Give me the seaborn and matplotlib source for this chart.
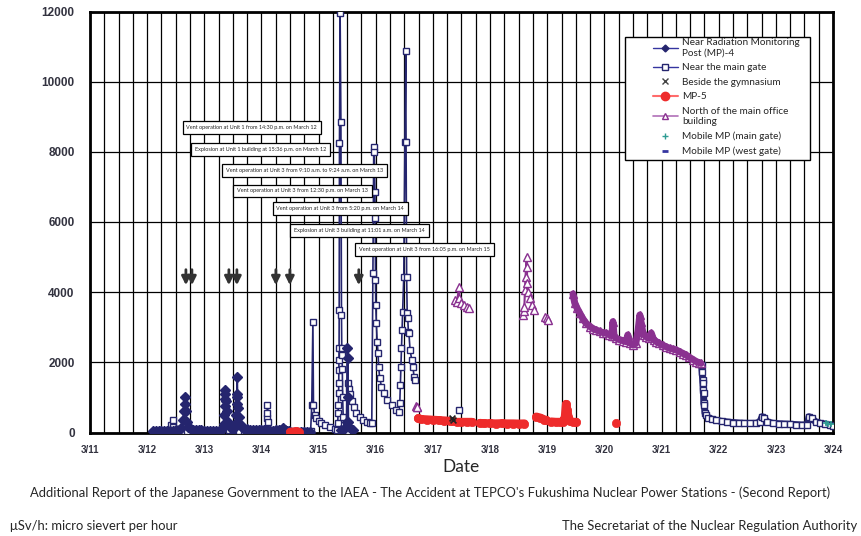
import numpy as np
import pandas as pd
import matplotlib
matplotlib.use('Agg')
import matplotlib.pyplot as plt
from matplotlib.lines import Line2D
from matplotlib.patches import Rectangle
import seaborn as sns

nan = np.nan

# x = days since 3/11 00:00, y = dose rate (uSv/h); nan marks a gap in the record
DATE_LABELS = ['3/11', '3/12', '3/13', '3/14', '3/15', '3/16', '3/17',
               '3/18', '3/19', '3/20', '3/21', '3/22', '3/23', '3/24']

# Near Radiation Monitoring Post (MP)-4
MP4_DAY = [1.10, 1.15, 1.20, 1.25, 1.30, 1.35, 1.40, 1.45, 1.50, 1.55, 1.60, 1.63, 1.645, 1.655,
           1.665, 1.675, 1.69, 1.72, 1.76, 1.80, 1.85, 1.90, 1.95, 2.00, 2.05, 2.10, 2.15, 2.20,
           2.25, 2.30, 2.34, 2.35, 2.355, 2.36, 2.365, 2.37, 2.38, 2.39, 2.41, 2.45, 2.50, 2.54,
           2.555, 2.565, 2.57, 2.575, 2.58, 2.59, 2.60, 2.62, 2.66, 2.70, 2.75, 2.80, 2.85, 2.90,
           2.95, 3.00, 3.05, 3.10, 3.15, 3.20, 3.25, 3.30, 3.34, 3.38, 3.42, 3.45, 3.48, nan,
           3.70, 3.75, 3.80, 3.85, nan,
           4.40, 4.45, 4.49, 4.505, 4.51, 4.515, 4.52, 4.54, 4.60]
MP4_VAL = [30, 35, 40, 40, 45, 50, 50, 55, 60, 80, 120, 350, 600, 800,
           1020, 600, 300, 150, 100, 80, 70, 60, 60, 55, 50, 50, 50, 50,
           55, 60, 250, 500, 750, 950, 1100, 1200, 900, 600, 300, 150, 100, 250,
           500, 800, 1100, 1590, 1000, 700, 450, 250, 150, 110, 90, 80, 70, 65,
           60, 60, 60, 60, 55, 55, 60, 60, 80, 120, 80, 50, 40, nan,
           20, 20, 20, 20, nan,
           60, 100, 300, 2400, 2115, 1000, 300, 150, 80]

# Near the main gate
GATE_DAY = [1.10, 1.18, 1.25, 1.32, 1.38, 1.42, 1.445, 1.46, 1.50, 1.55, 1.62, 1.70, 1.80, 1.90,
            2.00, 2.10, 2.20, 2.30, 2.38, 2.40, 2.43, 2.50, 2.60, 2.70, 2.80, 2.90, 3.00, 3.07,
            3.09, 3.10, 3.105, 3.12, 3.18, 3.25, 3.35, 3.45, 3.55, 3.65, 3.75, 3.86, 3.88,
            3.90, 3.91, 3.93, 3.96, 4.00, 4.05, 4.12, 4.20, 4.28, 4.32, 4.335, 4.34, 4.345, 4.35,
            4.352, 4.354, 4.356, 4.358, 4.36, 4.365, 4.376, 4.39, 4.40, 4.405, 4.41, 4.415, 4.42,
            4.43, 4.45, 4.48, 4.50, 4.52, 4.53, 4.55, 4.58, 4.62, 4.66, 4.72, 4.78, 4.85, 4.90,
            4.93, 4.95, 4.965, 4.975, 4.985, 4.99, 4.995, 5.00, 5.01, 5.025, 5.04, 5.05, 5.07,
            5.10, 5.15, 5.20, 5.28, 5.35, 5.40, 5.42, 5.43, 5.44, 5.45, 5.46, 5.47, 5.49, 5.51,
            5.524, 5.53, 5.54, 5.55, 5.56, 5.57, 5.58, 5.60, 5.63, 5.65, 5.67, 5.69, nan,
            6.46, nan,
            10.70, 10.71, 10.72, 10.725, 10.73, 10.735, 10.74, 10.75, 10.76, 10.78, 10.82, 10.88,
            10.95, 11.05, 11.15, 11.25, 11.35, 11.45, 11.55, 11.65, 11.72, 11.76, 11.80, 11.85,
            11.95, 12.05, 12.15, 12.25, 12.35, 12.45, 12.55, 12.58, 12.63, 12.70, 12.78, 12.86,
            12.94, 13.00]
GATE_VAL = [20, 25, 30, 40, 60, 200, 356, 150, 80, 50, 45, 40, 40, 40,
            40, 40, 40, 40, 150, 270, 80, 60, 50, 45, 40, 40, 40, 100,
            420, 555, 780, 300, 60, 50, 40, 35, 30, 30, 30, 40, 780,
            3160, 780, 500, 400, 330, 260, 200, 150, 90, 70, 270, 555, 780, 1130,
            1410, 1780, 2070, 2410, 3490, 8240, 11970, 8860, 3350, 2400, 2210, 1800, 1000,
            450, 60, 30, 40, 1400, 1250, 1100, 900, 720, 560, 430, 350, 300, 270,
            262, 4540, 8150, 8005, 6865, 6105, 4350, 3635, 3113, 2590, 2260, 1875, 1545,
            1305, 1117, 926, 784, 641, 593, 830, 1354, 1875, 2400, 2920, 3440, 4440, 8290,
            10880, 8290, 4440, 3400, 3255, 2875, 2830, 2350, 2070, 1875, 1590, 1495, nan,
            641, nan,
            1925, 1735, 1497, 1400, 1210, 1117, 832, 784, 547, 499, 420, 380,
            350, 320, 300, 285, 270, 262, 260, 262, 300, 450, 404, 300,
            262, 250, 242, 235, 225, 214, 220, 450, 404, 300, 262, 240,
            214, 185]

# Beside the gymnasium
GYM_DAY = [6.33, 6.36]
GYM_VAL = [400, 360]

# MP-5
MP5_DAY = [3.50, 3.55, 3.60, 3.65, nan,
           5.74, 5.80, 5.90, 6.00, 6.10, 6.20, 6.30, 6.35, nan,
           6.43, 6.50, 6.60, 6.68, nan,
           6.82, 6.90, 7.00, 7.10, 7.20, 7.30, 7.40, 7.50, 7.60, nan,
           7.81, 7.88, 7.95, 7.98, nan,
           8.07, 8.15, 8.22, 8.28, 8.31, 8.33, 8.35, 8.37, 8.40, 8.45, 8.51, nan,
           9.21]
MP5_VAL = [15, 25, 30, 20, nan,
           400, 380, 370, 360, 350, 340, 330, 320, nan,
           300, 300, 300, 300, nan,
           270, 260, 260, 255, 260, 255, 255, 250, 255, nan,
           450, 420, 370, 356, nan,
           310, 300, 300, 310, 450, 812, 640, 450, 320, 300, 300, nan,
           262]

# North of the main office building
OFFICE_DAY = [5.70, 5.715, 5.73, nan,
              6.38, 6.42, 6.46, 6.465, 6.50, 6.55, 6.60, 6.63, nan,
              7.58, 7.59, 7.60, 7.61, 7.62, 7.64, 7.645, 7.65, 7.67, 7.70, 7.73, 7.76, nan,
              7.96, 7.99, 8.02, nan,
              8.45, 8.48, 8.52, 8.57, 8.62, 8.68, 8.75, 8.80, 8.86, 8.92, 8.97, 9.03, 9.08,
              9.13, 9.15, 9.17, 9.21, 9.26, 9.32, 9.38, 9.41, 9.44, 9.50, 9.55, 9.59, 9.62,
              9.64, 9.67, 9.70, 9.73, 9.78, 9.82, 9.86, 9.91, 9.96, 10.02, 10.08, 10.14,
              10.20, 10.26, 10.32, 10.38, 10.43, 10.48, 10.55, 10.61, 10.66, 10.69]
OFFICE_VAL = [760, 720, 740, nan,
              3780, 3730, 4160, 3830, 3690, 3635, 3590, 3540, nan,
              3350, 3450, 3590, 4060, 4440, 5010, 4730, 4250, 4010, 3830, 3635, 3500, nan,
              3300, 3250, 3210, nan,
              3950, 3700, 3550, 3400, 3250, 3113, 3020, 2960, 2920, 2880, 2850, 2830, 2790,
              2760, 3160, 2740, 2685, 2650, 2620, 2590, 2780, 2560, 2495, 2540, 2920, 3350,
              3160, 2875, 2780, 2730, 2680, 2835, 2650, 2590, 2540, 2490, 2445, 2400,
              2380, 2350, 2300, 2250, 2210, 2150, 2080, 2020, 1990, 1970]

# Mobile MP (main gate)
MOBILE_DAY = [12.88, 12.92, 12.96]
MOBILE_VAL = [262, 242, 250]

# events and their arrows
EVENT_TEXT = ['Vent operation at Unit 1 from 14:30 p.m. on March 12',
              'Explosion at Unit 1 building at 15:36 p.m. on March 12',
              'Vent operation at Unit 3 from 9:10 a.m. to 9:24 a.m. on March 13',
              'Vent operation at Unit 3 from 12:30 p.m. on March 13',
              'Vent operation at Unit 3 from 5:20 p.m. on March 14',
              'Explosion at Unit 3 building at 11:01 a.m. on March 14',
              'Vent operation at Unit 3 from 16:05 p.m. on March 15']
ARROW_DAY = [1.678, 1.783, 2.430, 2.570, 3.252, 3.497, 4.703]
# box centres (day, value)
BOX_POS = [(2.832, 8695), (2.990, 8068), (3.750, 7470), (3.715, 6884),
           (4.379, 6386), (4.712, 5758), (5.857, 5216)]

NAVY = '#25256e'
RED = '#ee2b2b'
PURPLE = '#8a3190'
TEAL = '#2f9c93'


def to_frame(days, vals):
    df = pd.DataFrame({'day': days, 'val': vals})
    df['seg'] = df['val'].isna().cumsum()
    return df.dropna()


sns.set_style('white')
plt.rcParams['font.family'] = ['Lato', 'DejaVu Sans']

fig = plt.figure(figsize=(8.62, 5.36), dpi=100)
ax = fig.add_axes([90 / 862, 1 - 432.5 / 536, 743 / 862, 421 / 536])


def draw(df, color, marker, ms, lw, mfc, mew, z):
    sns.lineplot(data=df, x='day', y='val', units='seg', estimator=None,
                 sort=False, color=color, marker=marker, markersize=ms, linewidth=lw,
                 markerfacecolor=mfc, markeredgecolor=color, markeredgewidth=mew,
                 legend=False, ax=ax, zorder=z)


gate = to_frame(GATE_DAY, GATE_VAL)
office = to_frame(OFFICE_DAY, OFFICE_VAL)
last_gate = gate['seg'].max()
last_office = office['seg'].max()

draw(gate, NAVY, 's', 4.6, 1.2, 'white', 1.0, 4)
# dense hourly readings merge into a solid band
sns.lineplot(data=gate[gate['seg'] == last_gate], x='day', y='val', estimator=None, sort=False,
             color=NAVY, linewidth=5, legend=False, ax=ax, zorder=3)
draw(to_frame(MP4_DAY, MP4_VAL), NAVY, 'D', 4.6, 1.4, NAVY, 1.0, 5)
draw(to_frame(MP5_DAY, MP5_VAL), RED, 'o', 6, 6, RED, 0.5, 6)
draw(office, PURPLE, '^', 5.2, 1.5, 'white', 1.0, 6)
sns.lineplot(data=office[office['seg'] == last_office], x='day', y='val', estimator=None, sort=False,
             color=PURPLE, linewidth=5, legend=False, ax=ax, zorder=6)
sns.scatterplot(x=GYM_DAY, y=GYM_VAL, marker='x', color='#222222', s=18, linewidth=1.2, ax=ax, zorder=7)
sns.scatterplot(x=MOBILE_DAY, y=MOBILE_VAL, marker='+', color=TEAL, s=25, linewidth=1.2, ax=ax, zorder=7)

ax.set_xlim(0, 13)
ax.set_ylim(0, 12000)
ax.set_xticks(range(len(DATE_LABELS)))
ax.set_xticklabels(DATE_LABELS)
ax.set_xticks(np.arange(0, 13.01, 0.25), minor=True)
ax.set_yticks(range(0, 12001, 2000))
ax.grid(which='both', axis='x', color='black', linewidth=0.9)
ax.grid(which='major', axis='y', color='black', linewidth=0.9)
ax.set_axisbelow(True)
ax.tick_params(which='both', length=0)
ax.tick_params(axis='x', pad=9)
ax.tick_params(axis='y', pad=11)
for lab in ax.get_xticklabels():
    lab.set_fontfamily('Liberation Sans')
    lab.set_fontweight('bold')
    lab.set_fontsize(7)
    lab.set_color('#333340')
for lab in ax.get_yticklabels():
    lab.set_fontfamily('Liberation Sans')
    lab.set_fontweight('bold')
    lab.set_fontsize(8.5)
    lab.set_color('#333340')
for sp in ax.spines.values():
    sp.set_color('black')
    sp.set_linewidth(2)
ax.set_xlabel('Date', fontsize=12.5, labelpad=3)
ax.set_ylabel('')

# event arrows and labels
for d in ARROW_DAY:
    ax.annotate('', xy=(d, 4120), xytext=(d, 4720),
                arrowprops=dict(arrowstyle='-|>,head_width=0.25,head_length=0.5',
                                color='#333333', lw=2), zorder=8)
for txt, (bx, by) in zip(EVENT_TEXT, BOX_POS):
    ax.text(bx, by, txt, fontsize=4.0, ha='center', va='center', zorder=9,
            bbox=dict(boxstyle='square,pad=0.7', fc='white', ec='black', lw=0.9))

# legend: frame drawn separately so the entries can sit off-centre like the original
ax.add_patch(Rectangle((0.72, 0.6473), 0.249, 0.2928, transform=ax.transAxes,
                       facecolor='white', edgecolor='black', linewidth=1.0, zorder=9))
handles = [
    Line2D([], [], color='#3535a0', marker='D', ms=3.5, mfc=NAVY, mec=NAVY, lw=1),
    Line2D([], [], color='#3535a0', marker='s', ms=4.5, mfc='white', mec=NAVY, lw=1),
    Line2D([], [], color='#444444', marker='x', ms=5, lw=0),
    Line2D([], [], color='#ff6b6b', marker='o', ms=6, mfc=RED, mec=RED, lw=1.5),
    Line2D([], [], color='#b070b8', marker='^', ms=5, mfc='white', mec=PURPLE, lw=1.2),
    Line2D([], [], color=TEAL, marker='+', ms=5, lw=0),
    Line2D([], [], color='#3535a0', marker='_', ms=4, mew=2, lw=0),
]
labels = ['Near Radiation Monitoring\nPost (MP)-4', 'Near the main gate', 'Beside the gymnasium',
          'MP-5', 'North of the main office\nbuilding', 'Mobile MP (main gate)', 'Mobile MP (west gate)']
leg = ax.legend(handles, labels, loc='upper left', bbox_to_anchor=(0.7577, 0.9363),
                borderaxespad=0, borderpad=0, fontsize=7.2, frameon=False,
                handlelength=2.5, labelspacing=0.55, handletextpad=0.4)
for t in leg.get_texts():
    t.set_linespacing(1.2)
leg.set_zorder(10)

fig.text(0.499, 1 - 493 / 536, "Additional Report of the Japanese Government to the IAEA - The Accident at "
         "TEPCO's Fukushima Nuclear Power Stations - (Second Report)",
         ha='center', va='center', fontsize=9.4)
fig.text(10 / 862, 1 - 526 / 536, 'μSv/h: micro sievert per hour', ha='left', va='center', fontsize=9.4)
fig.text(857 / 862, 1 - 526 / 536, 'The Secretariat of the Nuclear Regulation Authority',
         ha='right', va='center', fontsize=9.4)

fig.savefig('out.png', dpi=100)
